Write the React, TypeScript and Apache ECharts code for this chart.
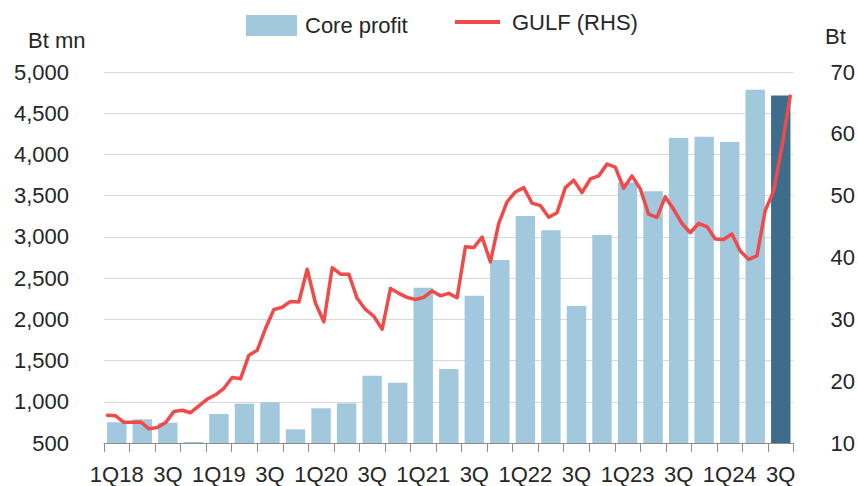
import React, { useEffect, useRef } from "react";
import * as echarts from "echarts";

const quarters = [
  "1Q18", "2Q", "3Q", "4Q",
  "1Q19", "2Q", "3Q", "4Q",
  "1Q20", "2Q", "3Q", "4Q",
  "1Q21", "2Q", "3Q", "4Q",
  "1Q22", "2Q", "3Q", "4Q",
  "1Q23", "2Q", "3Q", "4Q",
  "1Q24", "2Q", "3Q",
];

const coreProfit = [
  751, 787, 746, 512,
  852, 977, 994, 666,
  921, 981, 1316, 1231,
  2384, 1398, 2287, 2720,
  3254, 3081, 2162, 3023,
  3660, 3555, 4200, 4215,
  4151, 4784, 4715,
];

// Monthly GULF share price (Bt), Jan-18 .. Nov-24
const gulfPrice = [
  14.5, 14.4, 13.35, 13.35, 13.4, 12.3, 12.5, 13.3, 15.1, 15.3, 14.9, 16.0,
  17.1, 17.8, 18.85, 20.6, 20.4, 24.2, 25.0, 28.55, 31.6, 31.95, 32.9, 32.8,
  38.1, 32.6, 29.6, 38.35, 37.3, 37.3, 33.4, 31.6, 30.5, 28.4, 35.0, 34.2,
  33.55, 33.2, 33.55, 34.6, 33.8, 34.2, 33.5, 41.75, 41.6, 43.3, 39.3, 45.5,
  49.0, 50.6, 51.3, 48.8, 48.4, 46.5, 47.25, 51.3, 52.5, 50.5, 52.7, 53.2,
  55.1, 54.6, 51.2, 53.2, 51.1, 47.0, 46.5, 49.8, 47.8, 45.5, 44.0, 45.5,
  45.0, 43.0, 42.9, 43.8, 41.05, 39.7, 40.25, 47.6, 50.7, 57.9, 66.1,
];

const leftTicks = { min: 500, max: 5000, interval: 500 };
const rightTicks = { min: 10, max: 70, interval: 10 };

const FONT = "Liberation Sans, Arial, Helvetica, sans-serif";
const TEXT = "#262626";
const BAR = "#A2C8DD";
const BAR_LAST = "#3E6D8C";
const LINE = "#EF4B4B";

export default function App() {
  const ref = useRef<HTMLDivElement>(null);

  useEffect(() => {
    if (!ref.current) return;
    const chart = echarts.init(ref.current, null, { renderer: "svg" });

    const barData = coreProfit.map((v, i) =>
      i === coreProfit.length - 1
        ? { value: v, itemStyle: { color: BAR_LAST } }
        : v
    );

    chart.setOption({
      animation: false,
      textStyle: { fontFamily: FONT, color: TEXT },
      grid: { left: 104, right: 62, top: 72, bottom: 43 },
      legend: [
        {
          left: 246,
          top: 11.5,
          padding: 0,
          itemWidth: 51,
          itemHeight: 21,
          icon: "rect",
          data: ["Core profit"],
          textStyle: {
            fontFamily: FONT,
            fontSize: 22,
            lineHeight: 22,
            color: TEXT,
            padding: [0, 0, 6, 3],
          },
        },
        {
          left: 455,
          top: 11,
          padding: 0,
          itemWidth: 45,
          itemHeight: 4,
          icon: "rect",
          data: ["GULF (RHS)"],
          textStyle: {
            fontFamily: FONT,
            fontSize: 22,
            color: TEXT,
            padding: [0, 0, 0, 7],
          },
        },
      ],
      xAxis: [
        {
          type: "category",
          data: quarters,
          boundaryGap: true,
          axisLine: { show: true, lineStyle: { color: "#8C8C8C", width: 1 } },
          axisTick: {
            show: true,
            interval: 0,
            length: 9,
            lineStyle: { color: "#8C8C8C" },
          },
          axisLabel: {
            interval: 1,
            margin: 20,
            fontSize: 22,
            fontFamily: FONT,
            color: TEXT,
          },
          splitLine: { show: false },
        },
        {
          type: "value",
          min: -0.4,
          max: gulfPrice.length - 1 + 0.4,
          show: false,
          splitLine: { show: false },
        },
      ],
      yAxis: [
        {
          type: "value",
          min: leftTicks.min,
          max: leftTicks.max,
          interval: leftTicks.interval,
          axisLine: { show: false },
          axisTick: { show: false },
          axisLabel: {
            margin: 35,
            fontSize: 22,
            fontFamily: FONT,
            color: TEXT,
            formatter: (v: number) => v.toLocaleString("en-US"),
          },
          splitLine: { show: true, lineStyle: { color: "#D9D9D9", width: 1 } },
        },
        {
          type: "value",
          min: rightTicks.min,
          max: rightTicks.max,
          interval: rightTicks.interval,
          position: "right",
          axisLine: { show: false },
          axisTick: { show: false },
          axisLabel: {
            margin: 37,
            fontSize: 22,
            fontFamily: FONT,
            color: TEXT,
          },
          splitLine: { show: false },
        },
      ],
      graphic: [
        {
          type: "text",
          left: 28,
          top: 29,
          style: {
            text: "Bt mn",
            fontSize: 22,
            fontFamily: FONT,
            fill: TEXT,
          },
        },
        {
          type: "text",
          left: 825,
          top: 25,
          style: {
            text: "Bt",
            fontSize: 22,
            fontFamily: FONT,
            fill: TEXT,
          },
        },
      ],
      series: [
        {
          name: "Core profit",
          type: "bar",
          xAxisIndex: 0,
          yAxisIndex: 0,
          data: barData,
          barWidth: "76%",
          itemStyle: { color: BAR },
          z: 2,
        },
        {
          name: "GULF (RHS)",
          type: "line",
          xAxisIndex: 1,
          yAxisIndex: 1,
          data: gulfPrice.map((v, i) => [i, v]),
          showSymbol: false,
          symbol: "none",
          itemStyle: { color: LINE },
          lineStyle: { color: LINE, width: 3.5, join: "round", cap: "round" },
          z: 3,
        },
      ],
    });

    return () => chart.dispose();
  }, []);

  return (
    <div
      ref={ref}
      style={{ position: "absolute", left: 0, top: 0, width: 858, height: 486 }}
    />
  );
}
